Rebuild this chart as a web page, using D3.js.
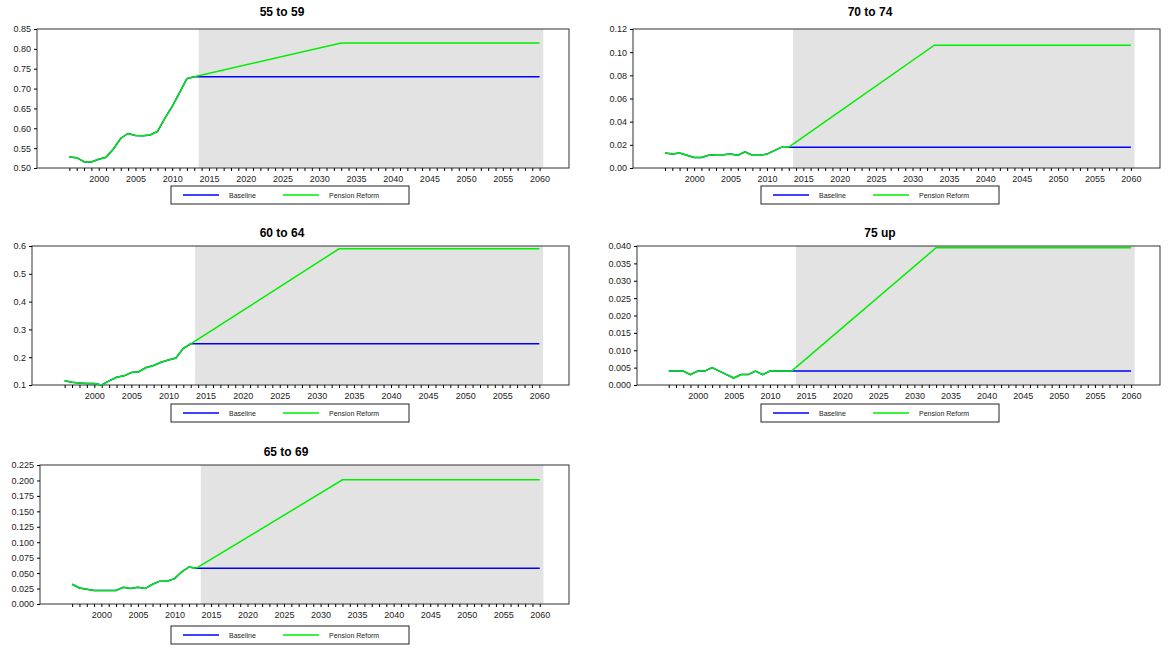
<!DOCTYPE html>
<html><head><meta charset="utf-8">
<script src="https://cdn.jsdelivr.net/npm/d3@7"></script>
<style>body{margin:0;background:#fff;font-family:"Liberation Sans",Arial,sans-serif}</style>
</head><body><svg id="c" width="1168" height="651"></svg>
<script>
const histYears = d3.range(1996, 2014);
const reformYears = [2013, 2033, 2060];
const baseYears = [2013, 2060];

const titles = ["55 to 59", "70 to 74", "60 to 64", "75 up", "65 to 69"];
const hist = [
  [.528,.526,.516,.515,.522,.527,.548,.575,.587,.582,.581,.583,.592,.625,.655,.69,.725,.73],
  [.013,.012,.013,.011,.009,.009,.011,.0115,.0115,.012,.011,.014,.011,.011,.012,.015,.018,.018],
  [.115,.11,.107,.105,.105,.1,.115,.128,.133,.145,.148,.163,.17,.182,.19,.197,.232,.248],
  [.004,.004,.004,.003,.004,.004,.005,.004,.003,.002,.003,.003,.004,.003,.004,.004,.004,.004],
  [.032,.026,.024,.022,.022,.022,.022,.027,.025,.027,.025,.032,.037,.037,.041,.052,.060,.058]
];
const baseline = [.73, .018, .248, .004, .058];
const reformEnd = [.815, .106, .59, .0395, .201];
const yDomains = [[.5,.85],[0,.12],[.1,.6],[0,.04],[0,.225]];
const yTicks = [d3.range(.5,.851,.05), d3.range(0,.121,.02), d3.range(.1,.601,.1), d3.range(0,.0401,.005), d3.range(0,.2251,.025)];
const yFmt = [".2f", ".2f", ".1f", ".3f", ".3f"];

// layout of each panel
const layout = [
  {left:37, right:569, top:29, title:12, tx:282, legend:[171,186]},
  {left:633, right:1160, top:29, title:12, tx:870, legend:[761,186]},
  {left:32, right:569, top:246, title:233, tx:282, legend:[171,404]},
  {left:637, right:1160, top:246, title:233, tx:880, legend:[761,404]},
  {left:40, right:569, top:465, title:452, tx:286, legend:[171,626]}
];
const plotH = 139;

const svg = d3.select("#c");

layout.forEach((L, i) => {
  const g = svg.append("g");
  const x = d3.scaleLinear().domain([1991.6, 2064]).range([L.left, L.right]);
  const y = d3.scaleLinear().domain(yDomains[i]).range([L.top + plotH, L.top]);

  g.append("rect").attr("x", x(2013.6)).attr("y", L.top)
    .attr("width", x(2060.5) - x(2013.6)).attr("height", plotH).attr("fill", "#e3e3e3");

  g.append("rect").attr("x", L.left).attr("y", L.top)
    .attr("width", L.right - L.left).attr("height", plotH)
    .attr("fill", "none").attr("stroke", "#333").attr("stroke-width", 1);

  const ya = g.append("g").attr("transform", `translate(${L.left},0)`)
    .call(d3.axisLeft(y).tickValues(yTicks[i]).tickFormat(d3.format(yFmt[i])).tickSize(3));
  ya.select(".domain").remove();
  ya.selectAll("text").attr("font-size", 9).attr("fill", "#222").attr("font-family", "Liberation Sans, Arial");

  const xa = g.append("g").attr("transform", `translate(0,${L.top + plotH})`)
    .call(d3.axisBottom(x).tickValues(d3.range(1996, 2061)).tickSize(3)
      .tickFormat(d => d % 5 === 0 ? d : ""));
  xa.select(".domain").remove();
  xa.selectAll("text").attr("font-size", 9).attr("fill", "#222").attr("dy", "0.9em").attr("font-family", "Liberation Sans, Arial");

  const line = d3.line().x(d => x(d[0])).y(d => y(d[1]));
  const h = histYears.map((yr, k) => [yr, hist[i][k]]);
  const b = baseYears.map(yr => [yr, baseline[i]]);
  const r = [[2013, baseline[i]], [2033, reformEnd[i]], [2060, reformEnd[i]]];

  g.append("path").attr("d", line(h.concat(b.slice(1)))).attr("fill", "none")
    .attr("stroke", "#0000ff").attr("stroke-width", 1.5);
  g.append("path").attr("d", line(h)).attr("fill", "none")
    .attr("stroke", "#00ee00").attr("stroke-width", 1.5);
  g.append("path").attr("d", line(r)).attr("fill", "none")
    .attr("stroke", "#00ee00").attr("stroke-width", 1.5);

  g.append("text").attr("x", L.tx).attr("y", L.title + 4)
    .attr("text-anchor", "middle").attr("font-weight", "bold").attr("font-size", 12).text(titles[i]);

  const [lx, ly] = L.legend;
  const lg = g.append("g").attr("transform", `translate(${lx},${ly})`);
  lg.append("rect").attr("width", 238).attr("height", 18).attr("fill", "#fff").attr("stroke", "#222");
  [["Baseline", "#0000ff", 0], ["Pension Reform", "#00ee00", 100]].forEach(([t, c, o]) => {
    lg.append("line").attr("x1", 12 + o).attr("x2", 48 + o).attr("y1", 9).attr("y2", 9)
      .attr("stroke", c).attr("stroke-width", 1.5);
    lg.append("text").attr("x", 58 + o).attr("y", 12).attr("font-size", 7).attr("fill", "#222").text(t);
  });
});
</script></body></html>
